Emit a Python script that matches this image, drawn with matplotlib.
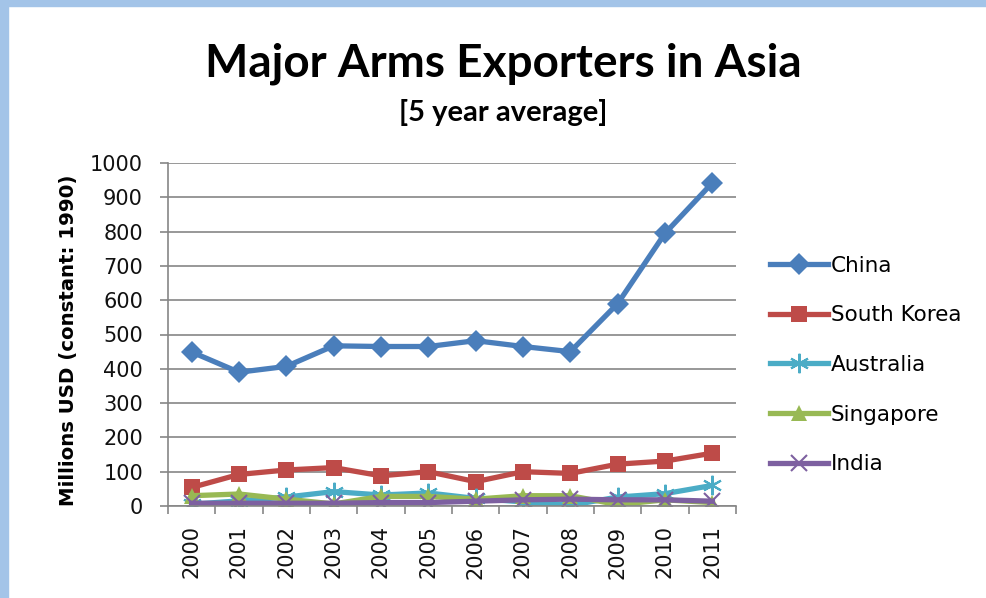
import matplotlib
matplotlib.use("Agg")
import matplotlib.pyplot as plt
from matplotlib.patches import Rectangle

# data
years = ["2000", "2001", "2002", "2003", "2004", "2005",
         "2006", "2007", "2008", "2009", "2010", "2011"]
china = [449, 390, 407, 467, 465, 465, 482, 465, 450, 590, 795, 942]
south_korea = [54, 92, 105, 112, 88, 100, 71, 100, 95, 122, 131, 154]
australia = [5, 15, 26, 42, 32, 38, 22, 12, 2, 26, 36, 60]
singapore = [30, 35, 20, 6, 28, 28, 20, 30, 30, 4, 18, 10]
india = [8, 8, 8, 8, 10, 10, 14, 18, 20, 18, 18, 14]

series = [
    ("China", china, "#4A7EBB", "D", 11),
    ("South Korea", south_korea, "#BE4B48", "s", 12),
    ("Australia", australia, "#4BACC6", (6, 2, 0), 14),
    ("Singapore", singapore, "#98B954", "^", 12),
    ("India", india, "#7D60A0", "x", 11),
]

fig = plt.figure(figsize=(9.87, 5.98), dpi=100)

# light blue frame strips on the left and top
fig.patches.append(Rectangle((0, 0), 8 / 987, 1, transform=fig.transFigure,
                             color="#A3C4E8", zorder=0))
fig.patches.append(Rectangle((0, 1 - 6 / 598), 1, 6 / 598, transform=fig.transFigure,
                             color="#A3C4E8", zorder=0))

ax = fig.add_axes([168 / 987, 1 - 506 / 598, (736 - 168) / 987, (506 - 163) / 598])

x = list(range(len(years)))
for name, vals, col, mk, ms in series:
    ax.plot(x, vals, color=col, linewidth=3.8, marker=mk, markersize=ms,
            markeredgewidth=1.5 if mk in ("x", (6, 2, 0)) else 0,
            markeredgecolor=col, label=name, solid_joinstyle="round")

ax.set_xlim(-0.5, len(years) - 0.5)
ax.set_ylim(0, 1000)
ax.set_yticks(range(0, 1001, 100))
ax.set_xticks(x)
ax.set_xticklabels(years, rotation=90)
ax.set_xticks([i - 0.5 for i in range(len(years) + 1)], minor=True)

ax.grid(axis="y", color="#868686", linewidth=1.2)
ax.set_axisbelow(True)
for s in ("top", "right"):
    ax.spines[s].set_visible(False)
for s in ("left", "bottom"):
    ax.spines[s].set_color("#868686")
    ax.spines[s].set_linewidth(1.2)

ax.tick_params(axis="y", length=6, width=1.2, color="#868686", pad=12,
               labelsize=15, labelcolor="#111111")
ax.tick_params(axis="x", which="major", length=0, pad=14, labelsize=15,
               labelcolor="#111111")
ax.tick_params(axis="x", which="minor", length=6, width=1.2, color="#868686")

fig.text(69 / 987, 1 - 340 / 598, "Millions USD (constant: 1990)", rotation=90,
         ha="center", va="center", fontsize=14.2, fontweight="bold")

fig.text(503 / 987, 1 - 64 / 598, "Major Arms Exporters in Asia",
         ha="center", va="center", fontsize=33, fontweight="bold", family="Lato")
fig.text(503 / 987, 1 - 113 / 598, "[5 year average]",
         ha="center", va="center", fontsize=21, fontweight="bold", family="Lato")

fig.legend(loc="center left", bbox_to_anchor=(770 / 987, 1 - 365 / 598),
           frameon=False, fontsize=15.5, handlelength=2.7, handletextpad=0.12,
           labelspacing=1.38, borderpad=0, borderaxespad=0)

fig.savefig("out.png", dpi=100)
